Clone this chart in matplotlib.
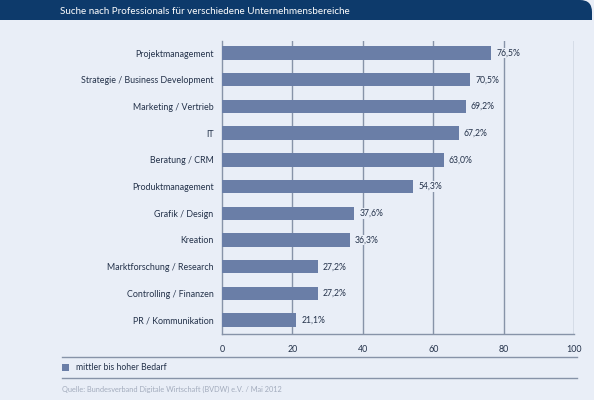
"""Suche nach Professionals - horizontal bar chart."""

import numpy as np
import matplotlib
import matplotlib.pyplot as plt
from matplotlib.path import Path
from matplotlib.patches import PathPatch, Rectangle

matplotlib.use("Agg")

categories = [
    "Projektmanagement",
    "Strategie / Business Development",
    "Marketing / Vertrieb",
    "IT",
    "Beratung / CRM",
    "Produktmanagement",
    "Grafik / Design",
    "Kreation",
    "Marktforschung / Research",
    "Controlling / Finanzen",
    "PR / Kommunikation",
]
values = [76.5, 70.5, 69.2, 67.2, 63.0, 54.3, 37.6, 36.3, 27.2, 27.2, 21.1]
xticks = [0, 20, 40, 60, 80, 100]

title = "Suche nach Professionals für verschiedene Unternehmensbereiche"
legend_label = "mittler bis hoher Bedarf"
source = "Quelle: Bundesverband Digitale Wirtschaft (BVDW) e.V. / Mai 2012"

BG = "#e9eef7"
HEADER = "#0d3a6b"
BAR = "#6a7ea7"
GRID = "#8793a8"
TEXT = "#24324a"

plt.rcParams.update({
    "font.family": ["Lato", "DejaVu Sans"],
    "font.size": 6.4,
})

W, H = 594, 400
fig = plt.figure(figsize=(W / 100, H / 100), dpi=100)
fig.patch.set_facecolor(BG)

# pixel canvas for header, separator lines, legend and source
bg = fig.add_axes([0, 0, 1, 1])
bg.set_xlim(0, W)
bg.set_ylim(H, 0)
bg.axis("off")

r = 12
verts = [(0, 0), (592 - r, 0), (592, 0), (592, r), (592, 20), (0, 20), (0, 0)]
codes = [Path.MOVETO, Path.LINETO, Path.CURVE3, Path.CURVE3,
         Path.LINETO, Path.LINETO, Path.CLOSEPOLY]
bg.add_patch(PathPatch(Path(verts, codes), facecolor=HEADER, edgecolor="none"))
bg.text(60, 11, title, color="white", fontsize=7.1, va="center", ha="left")

for yy in (357, 378):
    bg.plot([62, 577], [yy, yy], color=GRID, lw=1)
bg.add_patch(Rectangle((62, 364), 6.5, 6.5, facecolor=BAR, edgecolor="none"))
bg.text(76, 367.5, legend_label, color=TEXT, fontsize=6.2, va="center", ha="left")
bg.text(62, 389, source, color="#a3acbd", fontsize=5.3, va="center", ha="left")

# bar chart
ax = fig.add_axes([222 / W, 1 - 334 / H, (574 - 222) / W, (334 - 41) / H])
ax.set_facecolor("none")
y = np.arange(len(categories))
ax.barh(y, values, height=0.5, color=BAR, zorder=3)
for yi, v in zip(y, values):
    ax.text(v + 1.4, yi, f"{v:.1f}%".replace(".", ","), color=TEXT,
            fontsize=6.2, va="center", ha="left", zorder=4,
            bbox=dict(boxstyle="square,pad=0.1", facecolor=BG, edgecolor="none"))

ax.set_xlim(0, 100)
ax.set_ylim(10.52, -0.45)
ax.set_yticks(y)
ax.set_yticklabels(categories, color=TEXT, fontsize=6.4)
ax.set_xticks(xticks)
ax.set_xticklabels([str(t) for t in xticks], color=TEXT, fontsize=6.4)
ax.tick_params(axis="y", length=0, pad=6)
ax.tick_params(axis="x", length=0, pad=8)
for xt in xticks[1:]:
    ax.axvline(xt, color=GRID, lw=1, zorder=1)
for side in ("top", "right"):
    ax.spines[side].set_visible(False)
for side in ("left", "bottom"):
    ax.spines[side].set_color(GRID)
    ax.spines[side].set_linewidth(1)

fig.savefig("out.png", dpi=100, facecolor=BG)
